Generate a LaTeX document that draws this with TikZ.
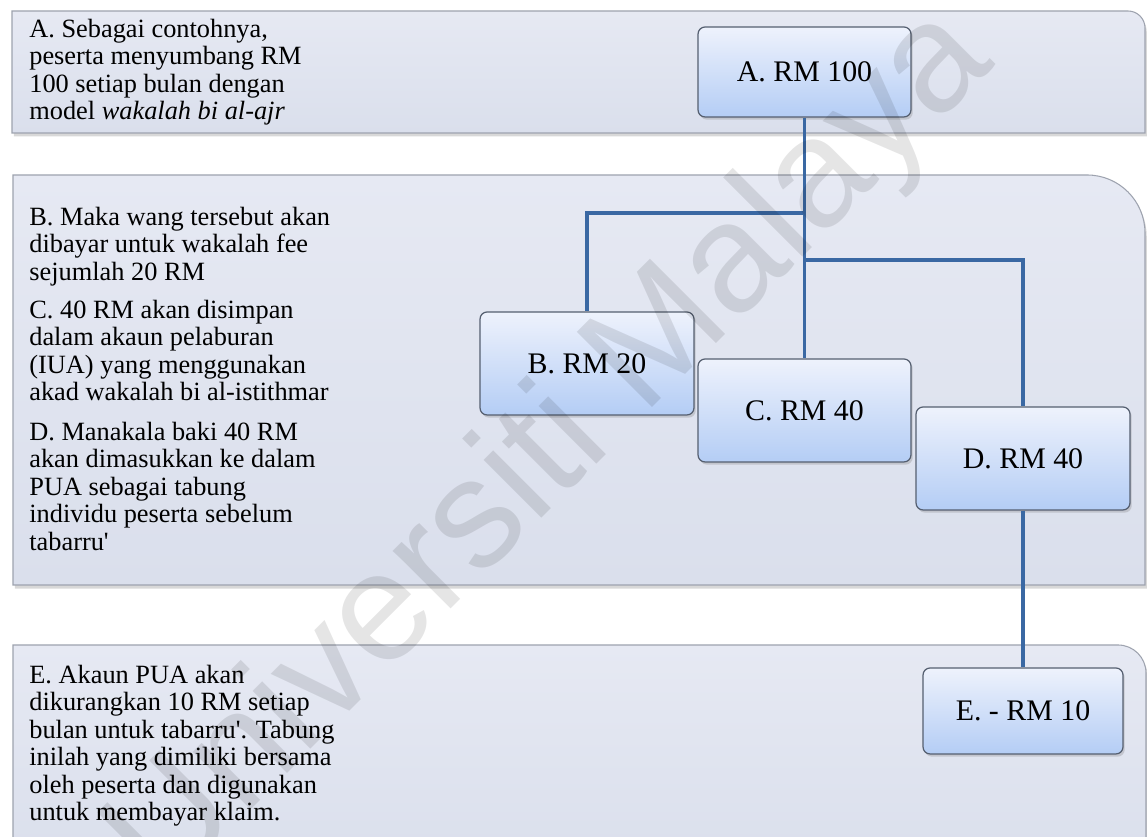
\documentclass[tikz,border=0pt]{standalone}
\usepackage{fontspec}
\setmainfont{Liberation Serif}
\newfontfamily\markfont{Liberation Sans}
\usetikzlibrary{shadows}

\definecolor{bandfill}{RGB}{218,223,236}
\definecolor{bandtop}{RGB}{230,233,243}
\definecolor{bandline}{RGB}{158,163,175}
\definecolor{boxline}{RGB}{85,95,112}
\definecolor{boxtop}{RGB}{238,242,252}
\definecolor{boxbot}{RGB}{180,205,245}
\definecolor{linkblue}{RGB}{58,104,163}

\begin{document}
\begin{tikzpicture}[x=0.02cm,y=0.02cm,
  band/.style={draw=bandline, line width=0.6pt, top color=bandtop, bottom color=bandfill,
    drop shadow={shadow xshift=1pt, shadow yshift=-2pt, opacity=0.3}},
  amount/.style={draw=boxline, line width=0.7pt, rounded corners=4pt,
    top color=boxtop, bottom color=boxbot, inner sep=0pt,
    font=\fontsize{17}{20}\selectfont,
    drop shadow={shadow xshift=1pt, shadow yshift=-1.5pt, opacity=0.3}},
  note/.style={anchor=north west, align=left, inner sep=0pt,
    font=\fontsize{15}{15.66}\selectfont},
  link/.style={draw=linkblue, line width=2.2pt}
]
\useasboundingbox (0,0) rectangle (1147,837);
\fill[white] (0,0) rectangle (1147,837);

% three horizontal bands, each with a rounded top-right corner
\begin{scope}
  \clip (0,0) rectangle (1147,837);
  \path[band] (12,704) -- (12,826) -- (1128,826)
    arc[start angle=90, end angle=0, radius=17] -- (1145,704) -- cycle;
  \path[band] (13,252) -- (13,662) -- (1087,662)
    arc[start angle=90, end angle=0, radius=58] -- (1145,252) -- cycle;
  \path[band] (13,-30) -- (13,192) -- (1118,192)
    arc[start angle=90, end angle=0, radius=28] -- (1146,-30) -- cycle;
\end{scope}

% explanatory notes
\node[note] (noteA) at (29,819.3) {\strut A. Sebagai contohnya,\\
  peserta menyumbang RM\\100 setiap bulan dengan\\model \textit{wakalah bi al-ajr}};
\node[note] (noteB) at (29,631.3) {\strut B. Maka wang tersebut akan\\
  dibayar untuk wakalah fee\\sejumlah 20 RM};
\node[note] (noteC) at (29,538.3) {\strut C. 40 RM akan disimpan\\
  dalam akaun pelaburan\\(IUA) yang menggunakan\\akad wakalah bi al-istithmar};
\node[note] (noteD) at (29,416.3) {\strut D. Manakala baki 40 RM\\
  akan dimasukkan ke dalam\\PUA sebagai tabung\\individu peserta sebelum\\tabarru\textquotesingle};
\node[note] (noteE) at (29,173.3) {\strut E. Akaun PUA akan\\
  dikurangkan 10 RM setiap\\bulan untuk tabarru\textquotesingle. Tabung\\inilah yang dimiliki bersama\\
  oleh peserta dan digunakan\\untuk membayar klaim.};

% amount boxes
\node[amount, minimum width=4.26cm, minimum height=1.80cm] (A) at (804.5,765) {A. RM 100};
\node[amount, minimum width=4.28cm, minimum height=2.06cm] (B) at (587,473.5) {B. RM 20};
\node[amount, minimum width=4.26cm, minimum height=2.06cm] (C) at (804.5,426.5) {C. RM 40};
\node[amount, minimum width=4.28cm, minimum height=2.06cm] (D) at (1023,378.5) {D. RM 40};
\node[amount, minimum width=4.00cm, minimum height=1.72cm] (E) at (1023,126) {E. - RM 10};

% branching connectors
\coordinate (splitB) at (804.5,624);
\coordinate (splitD) at (804.5,577);
\draw[link] (A.south) -- (C.north);
\draw[link] (splitB) -| (B.north);
\draw[link] (splitD) -| (D.north);
\draw[link] (D.south) -- (E.north);

% watermark
\node[rotate=45, text=black, text opacity=0.1, inner sep=0pt,
  font=\markfont\fontsize{88}{88}\selectfont] (mark) at (552,385) {Universiti Malaya};
\end{tikzpicture}
\end{document}
